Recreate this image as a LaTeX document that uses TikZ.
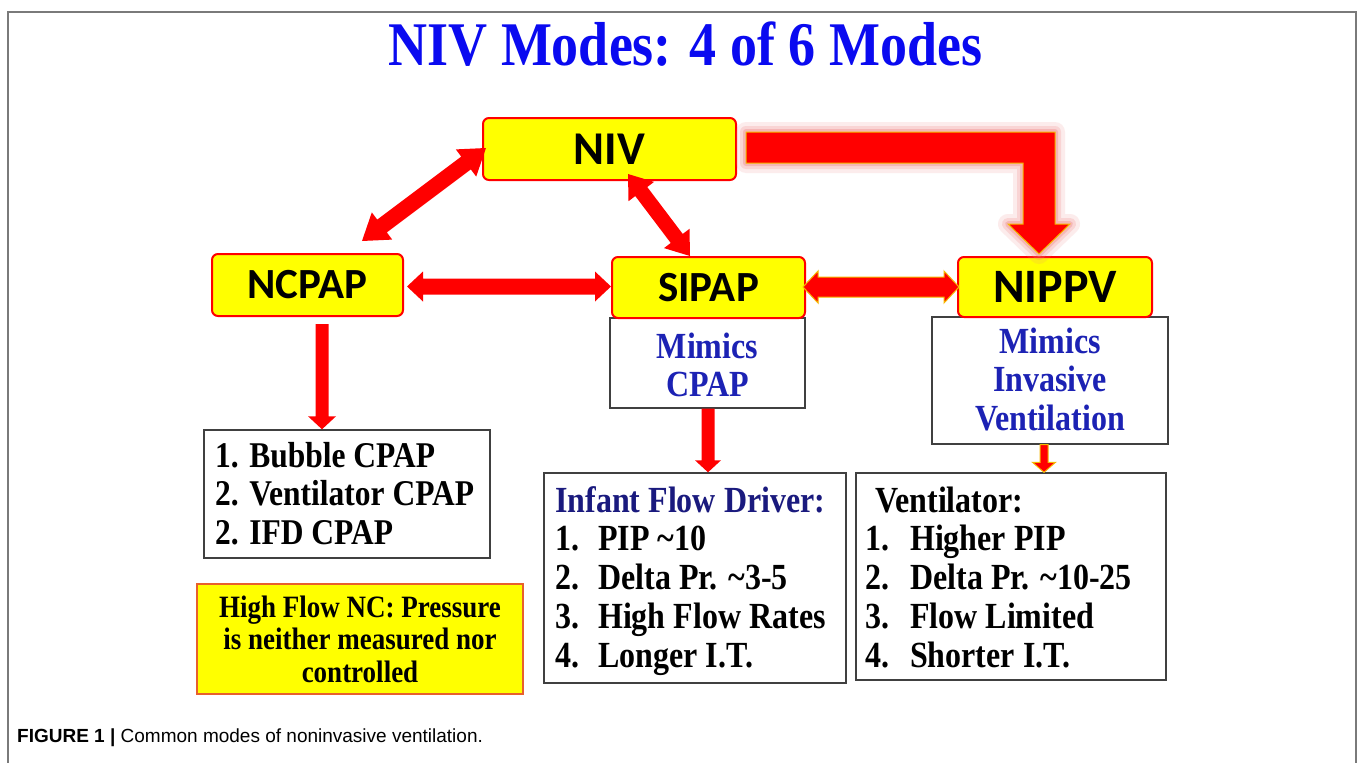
\documentclass[tikz,border=0pt]{standalone}
\usepackage{fontspec}
\usepackage{graphicx}
\setmainfont{Liberation Serif}
\newfontfamily\calib{Carlito}
\newfontfamily\helv{Liberation Sans}
\usetikzlibrary{calc}
\definecolor{boxred}{HTML}{FF0000}
\definecolor{boxyel}{HTML}{FFFF00}
\definecolor{titleblue}{HTML}{0A0AF0}
\definecolor{midblue}{HTML}{1C22B4}
\definecolor{navyblue}{HTML}{1A1A7E}
\definecolor{framegray}{HTML}{7A7A7A}
\definecolor{edgeorange}{HTML}{F5B800}
\definecolor{hfedge}{HTML}{E8602C}
\definecolor{glowpink}{HTML}{F08080}
\newcommand{\vst}[1]{\scalebox{1}[1.15]{#1}}
% double-headed block arrow: [opts]{A}{B}{half shaft}{half head}{head length}
\newcommand{\dblarrow}[6][]{%
  \coordinate (da) at ($(#2)!#6!(#3)$);
  \coordinate (db) at ($(#3)!#6!(#2)$);
  \path[#1] (#2) -- ($(da)!#5!90:(#3)$) -- ($(da)!#4!90:(#3)$)
    -- ($(db)!#4!-90:(#2)$) -- ($(db)!#5!-90:(#2)$) -- (#3)
    -- ($(db)!#5!90:(#2)$) -- ($(db)!#4!90:(#2)$)
    -- ($(da)!#4!-90:(#3)$) -- ($(da)!#5!-90:(#3)$) -- cycle;}
% single-headed block arrow: [opts]{tail}{tip}{half shaft}{half head}{head length}
\newcommand{\sglarrow}[6][]{%
  \coordinate (sb) at ($(#3)!#6!(#2)$);
  \path[#1] ($(#2)!#4!90:(#3)$) -- ($(sb)!#4!-90:(#2)$) -- ($(sb)!#5!-90:(#2)$)
    -- (#3) -- ($(sb)!#5!90:(#2)$) -- ($(sb)!#4!90:(#2)$)
    -- ($(#2)!#4!-90:(#3)$) -- cycle;}
\newcommand{\elbowpath}{($(es)+(0,-15.5)$) -- ($(et |- es)+(16,-15.5)$) -- ($(et)+(16,-30)$) -- ($(et)+(31,-30)$) -- (et) -- ($(et)+(-31,-30)$) -- ($(et)+(-16,-30)$) -- ($(et |- es)+(-16,15.5)$) -- ($(es)+(0,15.5)$) -- cycle}
\begin{document}
\begin{tikzpicture}[x=1pt,y=-1pt,
  modebox/.style={draw=boxred, line width=2pt, fill=boxyel, rounded corners=6pt, inner sep=0pt, font=\calib\bfseries},
  notebox/.style={draw=black!75, line width=1.4pt, fill=white, inner sep=0pt},
  hfbox/.style={draw=hfedge, line width=1.5pt, fill=boxyel, inner sep=0pt},
  txt/.style={inner sep=0pt, anchor=base west},
  txtc/.style={inner sep=0pt, anchor=base},
  redfill/.style={fill=boxred},
  rededge/.style={fill=boxred, draw=edgeorange, line width=1pt, line join=miter},
  framestyle/.style={draw=framegray, line width=2pt}]
\useasboundingbox (0,0) rectangle (1358,763);
\fill[white] (0,0) rectangle (1358,763);
\coordinate (fbl) at (8,763);
\coordinate (ftl) at (8,12);
\coordinate (ftr) at (1356,12);
\coordinate (fbr) at (1356,763);
\draw[framestyle] (fbl) -- (ftl) -- (ftr) -- (fbr);

% title
\node[txtc] (title) at (685.5,65) {\vst{\fontsize{54}{60}\selectfont\bfseries\color{titleblue}NIV Modes: 4 of 6 Modes}};

% note boxes (under mode boxes)
\node[notebox, minimum width=195pt, minimum height=90pt] (sipapnote) at (707.5,363) {};
\node[notebox, minimum width=236pt, minimum height=127pt] (nippvnote) at (1050,380.5) {};

% mode boxes
\node[modebox, minimum width=253pt, minimum height=62pt, font=\calib\bfseries\fontsize{47}{50}\selectfont] (niv) at (609.5,149) {NIV};
\node[modebox, minimum width=191pt, minimum height=62pt, font=\calib\bfseries\fontsize{43}{46}\selectfont] (ncpap) at (307.5,285) {NCPAP};
\node[modebox, minimum width=193pt, minimum height=61pt, font=\calib\bfseries\fontsize{43}{46}\selectfont] (sipap) at (708.5,287.5) {SIPAP};
\node[modebox, minimum width=194pt, minimum height=60pt, font=\calib\bfseries\fontsize{48}{50}\selectfont] (nippv) at (1055,287) {NIPPV};

% list boxes
\node[notebox, minimum width=286pt, minimum height=128pt] (ncpaplist) at (347,494) {};
\node[hfbox, minimum width=326pt, minimum height=110pt] (hfnc) at (360,639) {};
\node[notebox, minimum width=302pt, minimum height=210pt] (sipaplist) at (695,578) {};
\node[notebox, minimum width=310pt, minimum height=207pt] (nippvlist) at (1011,576.5) {};

% texts
\node[txtc] (sipapnoteT) at (707.5,358) {\vst{\fontsize{32}{33.5}\selectfont\bfseries\color{midblue}\begin{tabular}[t]{@{}c@{}}Mimics\\CPAP\end{tabular}}};
\node[txtc] (nippvnoteT) at (1050,353) {\vst{\fontsize{32}{33.5}\selectfont\bfseries\color{midblue}\begin{tabular}[t]{@{}c@{}}Mimics\\Invasive\\Ventilation\end{tabular}}};
\node[txt] (ncpaplistT) at (215,467) {\vst{\fontsize{31.5}{33.9}\selectfont\bfseries\begin{tabular}[t]{@{}l@{}}1. Bubble CPAP\\2. Ventilator CPAP\\2. IFD CPAP\end{tabular}}};
\node[txtc] (hfncT) at (360,617) {\vst{\fontsize{27}{28.3}\selectfont\bfseries\begin{tabular}[t]{@{}c@{}}High Flow NC: Pressure\\is neither measured nor\\controlled\end{tabular}}};
\node[txt] (sipaplistT) at (555,512) {\vst{\fontsize{32}{33.7}\selectfont\bfseries\begin{tabular}[t]{@{}l@{}}\textcolor{navyblue}{Infant Flow Driver:}\\
\makebox[43pt][l]{1.}PIP \textasciitilde10\\
\makebox[43pt][l]{2.}Delta Pr. \textasciitilde3-5\\
\makebox[43pt][l]{3.}High Flow Rates\\
\makebox[43pt][l]{4.}Longer I.T.\end{tabular}}};
\node[txt] (nippvlistT) at (865,512) {\vst{\fontsize{32}{33.7}\selectfont\bfseries\begin{tabular}[t]{@{}l@{}}\hspace{10pt}Ventilator:\\
\makebox[45pt][l]{1.}Higher PIP\\
\makebox[45pt][l]{2.}Delta Pr. \textasciitilde10-25\\
\makebox[45pt][l]{3.}Flow Limited\\
\makebox[45pt][l]{4.}Shorter I.T.\end{tabular}}};

% caption
\node[txt] (caption) at (17,742) {\helv\fontsize{19}{22}\selectfont{\bfseries FIGURE 1 |} Common modes of noninvasive ventilation.};

% big elbow arrow NIV -> NIPPV with glow
\coordinate (es) at ($(niv.east)+(9,-1.5)$);
\coordinate (et) at ($(nippv.north)+(-16,-2)$);
\draw[glowpink, opacity=0.15, line width=20pt, line join=round] \elbowpath;
\draw[glowpink, opacity=0.22, line width=12pt, line join=round] \elbowpath;
\draw[glowpink, opacity=0.35, line width=6pt, line join=round] \elbowpath;
\path[rededge] \elbowpath;

% connectors
\coordinate (a1s) at ($(niv.west)+(4,-1)$);
\coordinate (a1e) at ($(ncpap.north)+(54.5,-12)$);
\dblarrow[redfill]{a1s}{a1e}{8pt}{17pt}{25pt}
\coordinate (a2s) at ($(niv.south)+(18.5,-7)$);
\coordinate (a2e) at ($(sipap.north)+(-18.5,0)$);
\dblarrow[redfill]{a2s}{a2e}{7.5pt}{16pt}{22pt}
\coordinate (a3s) at ($(ncpap.east)+(3,1.5)$);
\coordinate (a3e) at ($(sipap.west)+(0,-1)$);
\dblarrow[redfill]{a3s}{a3e}{8pt}{15pt}{16pt}
\coordinate (a4s) at ($(sipap.east)+(-3,-0.5)$);
\coordinate (a4e) at ($(nippv.west)+(2,0)$);
\dblarrow[rededge]{a4s}{a4e}{10pt}{16pt}{15pt}
\coordinate (a5s) at ($(ncpap.south)+(14.5,7)$);
\coordinate (a5e) at ($(ncpaplist.north)+(-25,0)$);
\sglarrow[redfill]{a5s}{a5e}{6.5pt}{14pt}{13pt}
\coordinate (a6s) at ($(sipapnote.south)+(0.5,0)$);
\coordinate (a6e) at ($(sipaplist.north)+(13,0)$);
\sglarrow[redfill]{a6s}{a6e}{6.5pt}{13pt}{12pt}
\coordinate (a7s) at ($(nippvnote.south)+(-6,0)$);
\coordinate (a7e) at ($(nippvlist.north)+(33,0)$);
\sglarrow[rededge]{a7s}{a7e}{4pt}{11.5pt}{10pt}
\end{tikzpicture}
\end{document}
